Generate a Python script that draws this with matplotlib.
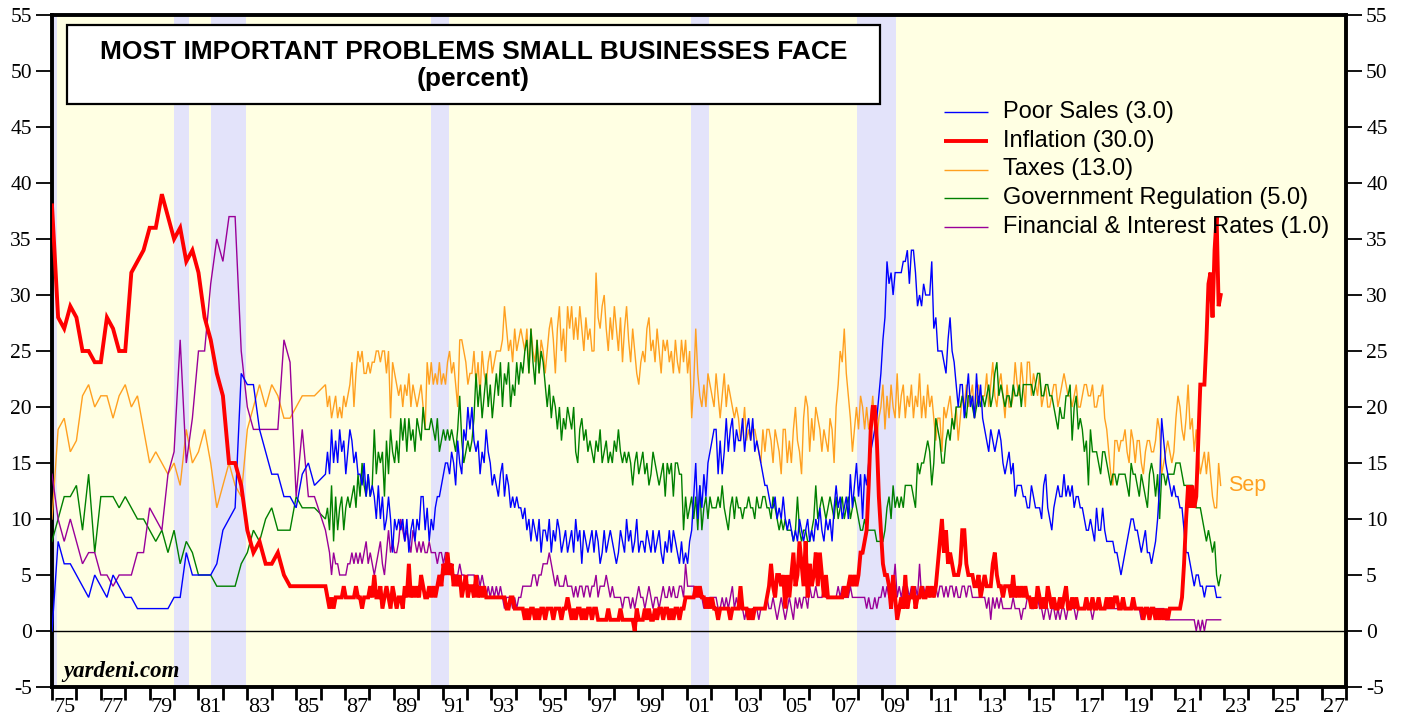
import numpy as np
import matplotlib
matplotlib.use("Agg")
import matplotlib.pyplot as plt
from matplotlib.patches import Rectangle

# ---------------- data ----------------
# quarterly readings, 1975.0 .. 1985.75
poor_sales_q = [0, 8, 6, 6, 5, 4, 3, 5, 4, 3, 5, 4, 3, 3, 2, 2, 2, 2, 2, 2, 3, 3,
                7, 5, 5, 5, 5, 6, 9, 10, 11, 23, 22, 22, 18, 16, 14, 14, 12, 12, 11, 14, 15, 13]
inflation_q = [38, 28, 27, 29, 28, 25, 25, 24, 24, 28, 27, 25, 25, 32, 33, 34, 36, 36, 39, 37, 35, 36,
               33, 34, 32, 28, 26, 23, 21, 15, 15, 13, 9, 7, 8, 6, 6, 7, 5, 4, 4, 4, 4, 4]
taxes_q = [10, 18, 19, 16, 17, 21, 22, 20, 21, 21, 19, 21, 22, 20, 21, 18, 15, 16, 15, 14, 15, 13,
           18, 15, 16, 18, 15, 11, 13, 15, 13, 12, 18, 20, 22, 20, 22, 21, 19, 19, 20, 21, 21, 21]
regulation_q = [8, 10, 12, 12, 13, 9, 14, 7, 12, 12, 12, 11, 12, 11, 10, 10, 9, 8, 9, 7, 9, 6,
                8, 7, 5, 5, 5, 4, 4, 4, 4, 6, 7, 9, 8, 10, 11, 9, 9, 9, 12, 11, 11, 11]
financial_q = [14, 10, 8, 10, 8, 6, 7, 7, 5, 5, 4, 5, 5, 5, 7, 7, 11, 10, 9, 14, 16, 26,
               15, 19, 25, 25, 31, 35, 33, 37, 37, 25, 20, 18, 18, 18, 18, 18, 26, 24, 12, 18, 12, 12]

# monthly readings, Jan 1986 .. Sep 2022 (one row per year)
poor_sales_m = [
    14, 16, 14, 18, 15, 17, 15, 18, 16, 17, 14, 16,
    18, 17, 15, 16, 14, 14, 13, 15, 12, 14, 12, 13,
    12, 10, 13, 10, 12, 9, 10, 12, 10, 7, 10, 9,
    10, 9, 10, 8, 10, 7, 9, 10, 8, 10, 9, 12,
    12, 9, 11, 8, 10, 9, 11, 12, 12, 13, 14, 15,
    15, 14, 16, 15, 13, 17, 15, 14, 18, 17, 20, 18,
    20, 17, 16, 17, 14, 16, 15, 18, 16, 15, 13, 14,
    13, 12, 14, 15, 12, 14, 13, 11, 12, 11, 12, 11,
    11, 10, 11, 9, 10, 8, 10, 9, 8, 10, 7, 9,
    9, 8, 10, 7, 9, 8, 10, 9, 7, 8, 9, 7,
    8, 9, 7, 10, 8, 9, 6, 9, 8, 7, 8, 9,
    7, 9, 8, 6, 7, 9, 7, 8, 9, 8, 7, 6,
    7, 9, 8, 7, 10, 8, 9, 7, 8, 10, 7, 8,
    8, 7, 9, 8, 7, 9, 7, 8, 9, 7, 6, 8,
    7, 9, 7, 9, 8, 7, 6, 8, 6, 7, 6, 8,
    9, 12, 15, 10, 13, 11, 14, 12, 15, 16, 17, 18,
    18, 14, 17, 14, 16, 19, 16, 18, 19, 16, 18, 17,
    17, 19, 16, 18, 19, 17, 19, 16, 17, 16, 15, 14,
    13, 13, 12, 11, 11, 12, 10, 11, 10, 12, 10, 9,
    10, 9, 8, 9, 8, 10, 9, 8, 9, 10, 8, 9,
    8, 10, 9, 11, 9, 8, 10, 9, 10, 8, 11, 13,
    11, 12, 10, 11, 12, 10, 14, 11, 13, 15, 12, 14,
    10, 14, 13, 15, 16, 17, 18, 19, 21, 23, 26, 28,
    33, 31, 32, 30, 32, 32, 32, 32, 33, 33, 34, 31,
    34, 34, 32, 29, 30, 29, 31, 30, 30, 30, 33, 27,
    28, 25, 25, 25, 24, 23, 26, 28, 25, 24, 22, 20,
    22, 22, 19, 21, 23, 20, 21, 19, 23, 20, 22, 19,
    18, 17, 16, 18, 17, 16, 17, 18, 17, 15, 14, 15,
    16, 14, 15, 12, 13, 13, 13, 12, 12, 11, 11, 13,
    12, 11, 11, 11, 10, 13, 14, 11, 10, 9, 11, 12,
    13, 12, 12, 14, 12, 13, 12, 13, 11, 12, 12, 11,
    11, 10, 9, 9, 10, 9, 8, 11, 9, 9, 11, 9,
    8, 8, 8, 8, 7, 7, 6, 5, 6, 7, 8, 9,
    10, 10, 9, 9, 8, 7, 8, 9, 7, 7, 6, 7,
    8, 10, 13, 19, 17, 15, 14, 13, 12, 13, 12, 12,
    11, 11, 9, 7, 7, 6, 5, 4, 5, 5, 4, 4,
    3, 4, 4, 4, 4, 4, 3, 3, 3]

inflation_m = [
    4, 3, 2, 3, 2, 3, 3, 3, 3, 4, 3, 3,
    3, 3, 3, 4, 3, 3, 2, 3, 3, 3, 4, 3,
    5, 3, 3, 4, 2, 3, 4, 3, 2, 4, 3, 2,
    3, 3, 2, 4, 3, 6, 3, 4, 3, 4, 3, 5,
    4, 3, 3, 4, 3, 4, 3, 4, 5, 4, 6, 5,
    7, 5, 6, 4, 5, 4, 5, 3, 4, 5, 3, 4,
    4, 3, 5, 3, 4, 3, 4, 3, 3, 3, 3, 3,
    3, 3, 3, 3, 3, 2, 2, 3, 3, 2, 2, 2,
    2, 2, 1, 2, 1, 2, 2, 1, 2, 1, 2, 2,
    1, 2, 2, 2, 1, 2, 2, 2, 1, 2, 2, 3,
    2, 1, 2, 1, 2, 2, 1, 2, 1, 2, 2, 1,
    2, 2, 1, 1, 1, 1, 1, 2, 1, 1, 1, 1,
    1, 2, 1, 1, 1, 1, 1, 1, 0, 2, 1, 1,
    1, 2, 1, 2, 1, 1, 2, 1, 2, 2, 1, 2,
    2, 1, 2, 1, 2, 2, 1, 2, 2, 3, 3, 3,
    3, 3, 4, 3, 4, 3, 3, 2, 3, 2, 3, 2,
    2, 1, 2, 2, 2, 2, 2, 1, 2, 2, 2, 2,
    4, 2, 2, 2, 1, 2, 1, 2, 2, 2, 2, 2,
    2, 3, 4, 6, 4, 3, 5, 5, 4, 5, 2, 5,
    3, 5, 7, 4, 5, 8, 6, 4, 8, 3, 6, 4,
    5, 7, 4, 7, 5, 3, 5, 3, 3, 3, 3, 3,
    3, 3, 3, 4, 3, 4, 5, 4, 5, 4, 5, 7,
    7, 8, 9, 13, 18, 20, 20, 17, 12, 9, 6, 5,
    5, 4, 2, 5, 3, 1, 2, 3, 2, 5, 2, 3,
    3, 4, 2, 3, 3, 4, 3, 3, 4, 3, 4, 3,
    4, 6, 8, 10, 7, 9, 6, 7, 6, 5, 5, 5,
    6, 9, 9, 6, 5, 5, 5, 4, 4, 5, 3, 4,
    5, 4, 4, 4, 6, 7, 5, 4, 4, 3, 4, 4,
    4, 3, 5, 3, 4, 3, 4, 3, 4, 3, 3, 2,
    3, 2, 4, 3, 2, 3, 2, 4, 3, 2, 3, 2,
    2, 3, 2, 3, 4, 2, 2, 3, 2, 3, 2, 2,
    2, 2, 3, 2, 2, 3, 2, 2, 3, 2, 2, 2,
    3, 2, 3, 2, 3, 3, 2, 2, 3, 2, 2, 2,
    2, 3, 2, 2, 2, 2, 1, 2, 2, 1, 2, 2,
    1, 2, 1, 2, 1, 2, 1, 2, 2, 2, 2, 2,
    2, 3, 6, 10, 13, 11, 13, 11, 12, 17, 22, 22,
    22, 26, 31, 32, 28, 34, 37, 29, 30]

taxes_m = [
    22, 20, 21, 19, 20, 21, 19, 20, 19, 21, 20, 21,
    22, 24, 20, 23, 25, 24, 25, 23, 23, 24, 23, 24,
    24, 25, 25, 24, 25, 25, 23, 25, 19, 24, 23, 22,
    21, 22, 20, 22, 21, 23, 20, 22, 21, 20, 21, 22,
    20, 18, 24, 22, 24, 22, 23, 22, 24, 22, 23, 22,
    24, 25, 23, 24, 22, 20, 26, 26, 25, 24, 22, 23,
    23, 25, 22, 24, 21, 25, 23, 22, 24, 25, 23, 24,
    25, 25, 25, 26, 29, 27, 25, 26, 24, 27, 25, 26,
    27, 26, 25, 27, 23, 27, 25, 24, 26, 23, 26, 25,
    23, 25, 27, 28, 26, 23, 27, 29, 25, 27, 24, 29,
    27, 29, 26, 28, 26, 29, 27, 25, 28, 26, 27, 25,
    25, 32, 28, 27, 29, 30, 27, 25, 28, 26, 29, 27,
    25, 28, 24, 27, 29, 26, 24, 27, 25, 23, 22, 24,
    25, 24, 27, 28, 25, 26, 24, 27, 25, 23, 26, 25,
    26, 24, 25, 23, 26, 24, 23, 26, 24, 26, 23, 25,
    19, 22, 27, 23, 21, 20, 22, 20, 23, 22, 21, 20,
    23, 21, 19, 21, 23, 20, 22, 21, 20, 19, 20, 19,
    17, 18, 20, 17, 18, 17, 18, 18, 17, 16, 15, 18,
    16, 18, 18, 17, 15, 18, 17, 16, 14, 18, 18, 15,
    17, 15, 18, 20, 17, 16, 14, 19, 21, 20, 16, 19,
    17, 20, 19, 18, 16, 18, 17, 16, 19, 18, 15, 20,
    22, 25, 24, 27, 23, 21, 19, 16, 18, 20, 18, 21,
    20, 18, 20, 18, 19, 21, 18, 17, 19, 20, 22, 18,
    21, 19, 22, 20, 19, 23, 19, 21, 22, 19, 21, 20,
    22, 19, 21, 20, 23, 19, 21, 19, 22, 20, 21, 19,
    17, 19, 19, 16, 20, 19, 20, 21, 19, 18, 20, 17,
    19, 21, 20, 22, 20, 21, 22, 19, 21, 22, 20, 21,
    21, 23, 20, 22, 24, 21, 20, 22, 23, 21, 19, 22,
    20, 20, 21, 24, 22, 21, 24, 22, 20, 24, 24, 21,
    23, 22, 21, 23, 20, 21, 22, 20, 20, 21, 22, 22,
    20, 21, 22, 23, 22, 21, 21, 20, 21, 22, 20, 20,
    21, 22, 22, 21, 21, 22, 20, 20, 21, 21, 22, 19,
    18, 16, 14, 13, 17, 17, 16, 17, 17, 18, 16, 15,
    18, 17, 15, 17, 17, 15, 14, 16, 17, 17, 16, 16,
    17, 19, 18, 14, 15, 16, 17, 16, 15, 16, 19, 21,
    20, 18, 17, 19, 22, 18, 19, 16, 18, 16, 14, 15,
    16, 14, 16, 14, 12, 11, 11, 15, 13]

regulation_m = [
    10, 11, 9, 13, 8, 12, 9, 11, 12, 9, 11, 12,
    11, 12, 13, 11, 14, 12, 15, 13, 12, 14, 12, 13,
    18, 14, 16, 15, 16, 12, 17, 14, 18, 16, 15, 17,
    15, 19, 17, 19, 16, 19, 17, 18, 16, 19, 18, 17,
    20, 18, 18, 18, 19, 18, 17, 19, 16, 17, 18, 17,
    18, 17, 18, 17, 16, 18, 21, 17, 15, 16, 17, 16,
    17, 19, 23, 20, 22, 19, 21, 23, 20, 22, 19, 21,
    23, 21, 24, 20, 23, 22, 24, 20, 22, 21, 24, 22,
    24, 23, 25, 26, 23, 27, 24, 22, 26, 23, 25, 24,
    22, 20, 22, 19, 21, 20, 18, 20, 17, 19, 18, 20,
    19, 18, 20, 16, 15, 18, 19, 17, 18, 16, 17, 16,
    15, 17, 16, 18, 15, 16, 17, 15, 16, 15, 17, 16,
    18, 16, 15, 16, 15, 16, 15, 13, 15, 16, 14, 15,
    16, 14, 15, 13, 14, 16, 15, 14, 13, 14, 15, 12,
    15, 14, 15, 12, 15, 15, 14, 14, 9, 12, 10, 11,
    12, 10, 12, 9, 13, 9, 11, 12, 10, 12, 11, 11,
    11, 12, 11, 13, 11, 10, 9, 11, 12, 10, 12, 11,
    11, 10, 11, 11, 12, 11, 11, 10, 12, 11, 11, 12,
    12, 11, 11, 10, 12, 11, 10, 9, 10, 9, 10, 9,
    9, 9, 8, 9, 12, 9, 8, 9, 9, 8, 8, 9,
    10, 13, 10, 11, 12, 11, 10, 11, 12, 11, 10, 12,
    10, 11, 12, 10, 11, 12, 10, 11, 12, 11, 10, 9,
    9, 10, 9, 9, 9, 9, 9, 8, 8, 8, 8, 9,
    11, 12, 10, 13, 11, 12, 11, 12, 11, 13, 13, 13,
    13, 12, 11, 15, 14, 15, 15, 16, 17, 16, 13, 15,
    19, 18, 17, 15, 15, 17, 18, 17, 19, 18, 20, 20,
    20, 21, 20, 19, 21, 21, 20, 19, 20, 21, 20, 21,
    20, 21, 22, 20, 21, 23, 24, 21, 22, 21, 20, 21,
    21, 20, 22, 21, 21, 22, 20, 22, 22, 22, 22, 22,
    21, 22, 23, 23, 21, 21, 22, 22, 21, 21, 20, 19,
    18, 20, 19, 19, 21, 21, 22, 17, 20, 21, 18, 19,
    18, 16, 17, 13, 18, 16, 16, 16, 15, 14, 16, 16,
    15, 14, 13, 14, 14, 13, 14, 14, 14, 14, 13, 12,
    15, 14, 14, 13, 12, 14, 13, 12, 11, 14, 15, 14,
    12, 14, 10, 14, 14, 13, 14, 14, 14, 14, 15, 15,
    15, 14, 13, 13, 13, 13, 13, 12, 11, 11, 11, 10,
    9, 8, 9, 8, 7, 8, 5, 4, 5]

financial_m = [
    9, 8, 7, 5, 7, 6, 6, 5, 5, 5, 5, 6,
    6, 7, 6, 7, 6, 7, 6, 7, 8, 6, 7, 6,
    5, 6, 7, 8, 6, 5, 7, 9, 7, 8, 7, 7,
    8, 10, 9, 8, 9, 8, 7, 9, 8, 7, 8, 7,
    8, 7, 7, 8, 7, 7, 7, 6, 7, 7, 6, 7,
    7, 6, 6, 5, 5, 5, 6, 5, 5, 4, 5, 5,
    5, 5, 4, 5, 4, 5, 4, 3, 4, 3, 4, 3,
    4, 3, 4, 3, 2, 3, 3, 3, 2, 3, 2, 3,
    3, 4, 4, 4, 4, 4, 5, 5, 4, 5, 5, 6,
    6, 6, 7, 6, 5, 4, 5, 4, 4, 4, 5, 4,
    4, 4, 3, 4, 3, 4, 4, 3, 4, 4, 3, 4,
    4, 5, 3, 4, 4, 4, 5, 4, 3, 4, 3, 3,
    3, 3, 2, 3, 3, 3, 2, 3, 2, 3, 4, 3,
    3, 2, 3, 4, 3, 2, 3, 3, 2, 3, 4, 3,
    3, 4, 3, 4, 3, 3, 4, 4, 3, 6, 4, 4,
    4, 4, 3, 4, 3, 3, 2, 3, 2, 3, 3, 3,
    3, 2, 2, 3, 2, 3, 2, 3, 4, 2, 3, 2,
    2, 2, 1, 2, 2, 1, 2, 2, 2, 1, 2, 2,
    2, 3, 2, 2, 3, 2, 1, 2, 3, 2, 1, 2,
    3, 2, 1, 3, 2, 3, 2, 3, 3, 2, 4, 3,
    3, 4, 3, 3, 3, 4, 3, 3, 3, 3, 3, 3,
    4, 3, 4, 3, 3, 3, 4, 3, 3, 3, 3, 3,
    3, 3, 2, 3, 2, 2, 3, 2, 3, 3, 4, 3,
    4, 3, 3, 4, 6, 3, 4, 3, 4, 3, 4, 3,
    4, 3, 4, 3, 6, 3, 4, 3, 4, 3, 4, 3,
    4, 3, 4, 4, 3, 4, 3, 4, 4, 3, 4, 3,
    3, 4, 4, 3, 4, 4, 3, 3, 3, 3, 3, 3,
    3, 2, 3, 1, 3, 2, 3, 2, 3, 2, 2, 2,
    2, 2, 3, 2, 2, 2, 1, 2, 2, 3, 3, 2,
    2, 3, 3, 2, 2, 1, 2, 2, 1, 2, 2, 1,
    2, 1, 2, 2, 1, 2, 2, 2, 2, 1, 2, 2,
    2, 2, 2, 2, 2, 1, 2, 2, 2, 2, 2, 2,
    2, 2, 2, 2, 2, 2, 2, 2, 2, 2, 2, 2,
    2, 2, 2, 2, 2, 1, 2, 2, 2, 2, 2, 2,
    2, 2, 2, 2, 2, 1, 1, 1, 1, 1, 1, 1,
    1, 1, 1, 1, 1, 1, 1, 1, 0, 1, 0, 1,
    0, 1, 1, 1, 1, 1, 1, 1, 1]

recession_starts = [1975.0, 1980.0, 1981.52, 1990.53, 2001.19, 2007.99]
recession_ends = [1975.2, 1980.61, 1982.95, 1991.27, 2001.93, 2009.55]

series_labels = ["Poor Sales (3.0)", "Inflation (30.0)", "Taxes (13.0)",
                 "Government Regulation (5.0)", "Financial & Interest Rates (1.0)"]
series_colors = ["#0000FF", "#FF0000", "#FFA020", "#008000", "#990099"]

# ---------------- figure ----------------
W, H = 1407, 719
fig = plt.figure(figsize=(W / 100, H / 100), dpi=100)
L, R, T, B = 52, 1346, 15, 687
ax = fig.add_axes([L / W, 1 - B / H, (R - L) / W, (B - T) / H])
ax.set_facecolor("#FFFFE3")

t_q = 1975.0 + 0.25 * np.arange(len(inflation_q))
t_m = 1986.0 + np.arange(len(inflation_m)) / 12.0 + 0.2

def full(q, m):
    return np.concatenate([t_q, t_m]), np.concatenate([np.array(q, float), np.array(m, float)])

for s, e in zip(recession_starts, recession_ends):
    ax.axvspan(s, e, color="#E3E3FA", lw=0, zorder=0.5)

ax.axhline(0, color="black", lw=1.0, zorder=1)

data = [(poor_sales_q, poor_sales_m), (inflation_q, inflation_m), (taxes_q, taxes_m),
        (regulation_q, regulation_m), (financial_q, financial_m)]
order = [2, 3, 4, 0, 1]
widths = [1.0, 2.8, 1.0, 1.0, 1.0]
for i in order:
    x, y = full(*data[i])
    ax.plot(x, y, color=series_colors[i], lw=widths[i], zorder=3 + (i == 1),
            solid_joinstyle="miter")

ax.set_xlim(1975.0, 2028.0)
ax.set_ylim(-5, 55)

# y ticks both sides
yt = np.arange(-5, 56, 5)
ax.set_yticks(yt)
ax.set_yticklabels([str(v) for v in yt])
ax.tick_params(axis="y", which="major", direction="out", length=11.5, width=1.3,
               left=True, right=True, labelleft=True, labelright=True,
               labelsize=15.5, pad=3)
for lab in ax.get_yticklabels():
    lab.set_fontfamily("Liberation Serif")
for lab in ax.yaxis.get_ticklabels(which="major"):
    pass
for t in ax.yaxis.get_major_ticks():
    t.label2.set_fontfamily("Liberation Serif")
    t.label2.set_fontsize(15.5)
ax.tick_params(axis="y", which="major", pad=3)

# x ticks: boundaries at each year, labels at mid of odd years
ax.set_xticks(np.arange(1975, 2029, 1))
ax.set_xticklabels([])
ax.tick_params(axis="x", which="major", direction="out", length=9, width=2.0)
odd = np.arange(1975, 2028, 2)
ax.set_xticks(odd + 0.5, minor=True)
ax.set_xticklabels(["%02d" % (v % 100) for v in odd], minor=True,
                   fontfamily="Liberation Serif", fontsize=16)
ax.tick_params(axis="x", which="minor", length=0, pad=8)

for sp in ax.spines.values():
    sp.set_linewidth(2.8)
    sp.set_color("black")

def ax_xy(px, py):
    return (px - L) / (R - L), (B - py) / (B - T)

# title box
x0, y0 = ax_xy(67, 104)
x1, y1 = ax_xy(880, 25)
ax.add_patch(Rectangle((x0, y0), x1 - x0, y1 - y0, transform=ax.transAxes,
                       facecolor="white", edgecolor="black", lw=1.6, zorder=6))
cx, ty = ax_xy(473.5, 52)
ax.text(cx, ty, "MOST IMPORTANT PROBLEMS SMALL BUSINESSES FACE", transform=ax.transAxes,
        ha="center", va="center", fontsize=19, fontweight="bold",
        fontfamily="Liberation Sans", zorder=7)
cx, ty = ax_xy(473.5, 79)
ax.text(cx, ty, "(percent)", transform=ax.transAxes, ha="center", va="center",
        fontsize=19, fontweight="bold", fontfamily="Liberation Sans", zorder=7)

# legend
for k in range(5):
    py = 112 + 28.75 * k
    lx0, ly = ax_xy(944, py)
    lx1, _ = ax_xy(988, py)
    ax.plot([lx0, lx1], [ly, ly], transform=ax.transAxes, color=series_colors[k],
            lw=2.8 if k == 1 else 1.0, zorder=7, solid_capstyle="butt")
    tx, _ = ax_xy(1003, py)
    ax.text(tx, ly, series_labels[k], transform=ax.transAxes, ha="left", va="center",
            fontsize=17, fontfamily="Liberation Sans", zorder=7)

# Sep label
ax.text(2023.15, taxes_m[-1], "Sep", color="#FFA020", fontsize=15.5,
        fontfamily="Liberation Sans", va="center", ha="left", zorder=7)

# source
sx, sy = ax_xy(63, 672)
ax.text(sx, sy, "yardeni.com", transform=ax.transAxes, ha="left", va="center",
        fontsize=16.5, fontweight="bold", fontstyle="italic",
        fontfamily="Liberation Serif", zorder=7)

fig.savefig("out.png", dpi=100)
